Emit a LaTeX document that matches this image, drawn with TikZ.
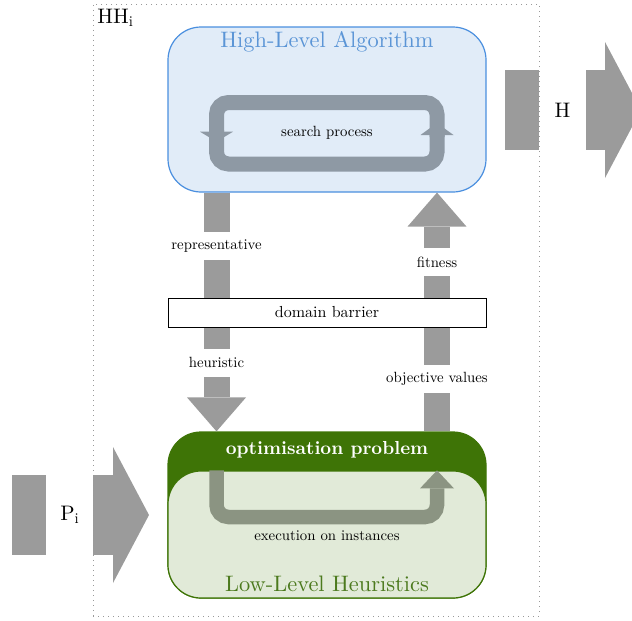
\documentclass[tikz,border=0pt]{standalone}
\usepackage{fontspec}
\setmainfont{lmroman10-regular.otf}[BoldFont=lmroman10-bold.otf]
\usetikzlibrary{arrows.meta}
\definecolor{hlafill}{HTML}{E1ECF8}
\definecolor{hlaline}{HTML}{4A8FDF}
\definecolor{hlatext}{HTML}{5B95D6}
\definecolor{loopgray}{HTML}{8E99A4}
\definecolor{arrgray}{HTML}{9B9B9B}
\definecolor{dkgreen}{HTML}{3E7406}
\definecolor{ltgreen}{HTML}{E1EAD8}
\definecolor{exgreen}{HTML}{8B9482}
\definecolor{llhtext}{HTML}{4C7A1E}
\newcommand{\subi}{\raisebox{-0.3ex}{\fontsize{7.4}{8}\selectfont i}}
\begin{document}
\begin{tikzpicture}[x=0.5pt,y=-0.5pt,
  lbl/.style={font=\fontsize{7.4}{9}\selectfont, text=black},
  gaplbl/.style={lbl, fill=white, inner sep=0pt, minimum height=14pt},
  titlefont/.style={font=\fontsize{11.2}{13}\selectfont},
  sidelbl/.style={fill=white, inner sep=0pt, minimum width=23.5pt, minimum height=42pt, font=\fontsize{10.5}{12}\selectfont},
  flowarrow/.style={arrgray, line width=13pt, -{Triangle[width=29.5pt,length=17pt,line width=0pt]}},
  bigarrow/.style={arrgray, line width=40pt, -{Triangle[width=68pt,length=18pt,line width=0pt]}},
  roundbox/.style={rounded corners=16.5pt, minimum width=159pt, inner sep=0pt, line width=0.6pt},
  looppath/.style={line width=7.5pt, rounded corners=6pt},
]
\useasboundingbox (0,0) rectangle (632,621);
\coordinate (lx) at (216.5,0);
\coordinate (rx) at (437,0);

% side arrows
\coordinate (pstart) at (12,515);
\coordinate (pend) at (149,515);
\draw[bigarrow] (pstart) -- (pend);
\node[sidelbl] (pi) at (69.5,515) {P\subi};
\coordinate (hstart) at (505,110);
\coordinate (hend) at (641,110);
\draw[bigarrow] (hstart) -- (hend);
\node[sidelbl] (h) at (562.5,110) {H};

% high level algorithm
\node[roundbox, fill=hlafill, draw=hlaline, minimum height=82.5pt] (hla) at (327,109.5) {};
\node[titlefont, text=hlatext] (hlatitle) at (327,42) {High-Level Algorithm};
\node[lbl] (sp) at (327,133) {search process};
\draw[looppath, loopgray, -{Triangle[width=16.5pt,length=5pt,line width=0pt]}]
  (437,137) -- (437,102.5) -- (216.5,102.5) -- (216.5,141.7);
\draw[looppath, loopgray, -{Triangle[width=16.5pt,length=6pt,line width=0pt]}]
  (216.5,130) -- (216.5,164) -- (437,164) -- (437,123);

% low level heuristics
\node[roundbox, fill=dkgreen, draw=dkgreen, minimum height=83pt] (llh) at (327,515) {};
\node[roundbox, fill=ltgreen, draw=dkgreen, minimum height=63.5pt] (llhbody) at (327,534.5) {};
\node[font=\bfseries\fontsize{9.4}{11}\selectfont, text=white] (op) at (327,450) {optimisation problem};
\draw[exgreen, line width=7.25pt, rounded corners=6pt, -{Triangle[width=17pt,length=9pt,line width=0pt]}]
  (llhbody.north -| lx) -- (216.5,517) -- (437,517) -- (llhbody.north -| rx);
\node[lbl] (ex) at (327,536) {execution on instances};
\node[titlefont, text=llhtext] (llhtitle) at (327,584) {Low-Level Heuristics};

% flows
\draw[flowarrow] (hla.south -| lx) -- (llh.north -| lx);
\draw[flowarrow] (llh.north -| rx) -- (hla.south -| rx);
\node[gaplbl] (rep) at (216.5,246) {representative};
\node[gaplbl] (heu) at (216.5,362.5) {heuristic};
\node[gaplbl] (fit) at (437,262) {fitness};
\node[gaplbl] (obj) at (437,379) {objective values};
\node[draw=black, fill=white, line width=0.5pt, minimum width=159pt, minimum height=14.5pt, inner sep=0pt, font=\fontsize{8}{10}\selectfont] (db) at (327,312.5) {domain barrier};

% frame
\node[draw=gray!80, dotted, line width=0.5pt, minimum width=223pt, minimum height=306pt, inner sep=0pt] (frame) at (316,310) {};
\node[anchor=north west, inner sep=0pt, font=\fontsize{10.5}{12}\selectfont] (hh) at (97,9) {HH\subi};
\end{tikzpicture}
\end{document}
